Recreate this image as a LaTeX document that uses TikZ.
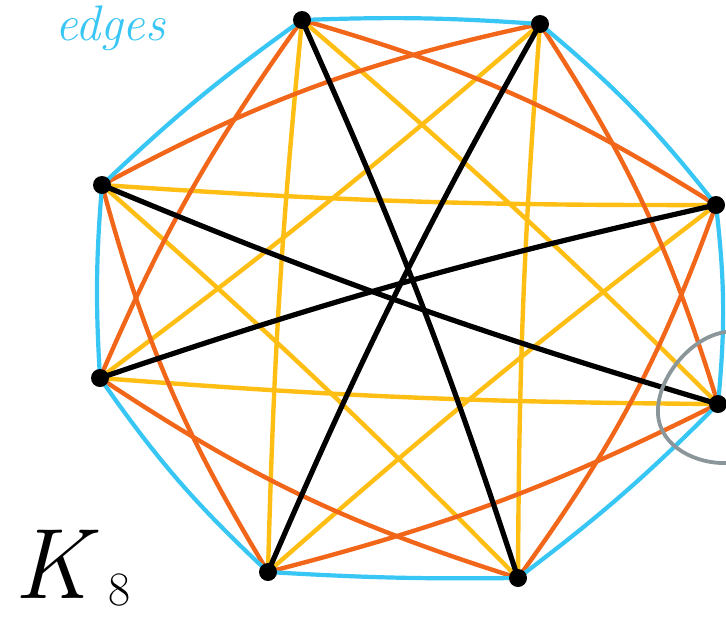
\documentclass[tikz,border=0pt]{standalone}
\usepackage{tikz}
\definecolor{eblue}{HTML}{38C6F4}
\definecolor{eorange}{HTML}{F2661A}
\definecolor{eyellow}{HTML}{FFBE14}
\definecolor{egray}{HTML}{8A9699}
\tikzset{
  e1/.style={draw=eblue, line width=4.2pt, line cap=round, line join=round},
  e2/.style={draw=eorange, line width=4.4pt, line cap=round, line join=round},
  e3/.style={draw=eyellow, line width=4.4pt, line cap=round, line join=round},
  e4/.style={draw=black, line width=5.2pt, line cap=round, line join=round},
  vdot/.style={circle, fill=black, inner sep=0pt, minimum size=18pt},
}
\begin{document}
\begin{tikzpicture}[x=1pt, y=-1pt]
\useasboundingbox[fill=white] (0,0) rectangle (726,619);
% vertices
\coordinate (v1) at (302,20);
\coordinate (v2) at (540,24);
\coordinate (v3) at (716,205);
\coordinate (v4) at (718,404);
\coordinate (v5) at (518,578);
\coordinate (v6) at (268,572);
\coordinate (v7) at (100,378);
\coordinate (v8) at (102,185);
% distance 3 (yellow)
\draw[e3] (v1) to[bend left=2] (v4);
\draw[e3] (v2) to[bend right=2] (v5);
\draw[e3] (v3) to[bend right=2] (v6);
\draw[e3] (v4) to[bend left=2] (v7);
\draw[e3] (v5) to[bend right=2] (v8);
\draw[e3] (v6) to[bend left=2] (v1);
\draw[e3] (v7) to[bend right=2] (v2);
\draw[e3] (v8) to[bend right=2] (v3);
% distance 2 (orange)
\draw[e2] (v1) to[bend left=8] (v3);
\draw[e2] (v2) to[bend left=8] (v4);
\draw[e2] (v3) to[bend left=8] (v5);
\draw[e2] (v4) to[bend left=6] (v6);
\draw[e2] (v5) to[bend left=8] (v7);
\draw[e2] (v6) to[bend left=8] (v8);
\draw[e2] (v7) to[bend left=6] (v1);
\draw[e2] (v8) to[bend left=8] (v2);
% distance 1 (blue)
\draw[e1] (v1) to[bend left=3] (v2);
\draw[e1] (v2) to[bend left=6] (v3);
\draw[e1] (v3) to[bend left=6] (v4);
\draw[e1] (v4) to[bend left=4] (v5);
\draw[e1] (v5) to[bend left=2] (v6);
\draw[e1] (v6) to[bend left=6] (v7);
\draw[e1] (v7) to[bend left=4] (v8);
\draw[e1] (v8) to[bend left=4] (v1);
% distance 4 (black)
\draw[e4] (v1) to[bend left=3] (v5);
\draw[e4] (v2) to[bend right=3] (v6);
\draw[e4] (v3) to[bend right=3] (v7);
\draw[e4] (v4) to[bend left=3] (v8);
% vertex dots
\node[vdot] (d1) at (v1) {};
\node[vdot] (d2) at (v2) {};
\node[vdot] (d3) at (v3) {};
\node[vdot] (d4) at (v4) {};
\node[vdot] (d5) at (v5) {};
\node[vdot] (d6) at (v6) {};
\node[vdot] (d7) at (v7) {};
\node[vdot] (d8) at (v8) {};
% gray highlight around vertex 4
\draw[draw=egray, line width=3.8pt, line cap=round]
  (726,332) .. controls (692,336) and (656,378) .. (658,414)
  .. controls (660,448) and (698,464) .. (726,463);
% labels
\node[text=eblue, font=\fontsize{50}{50}\selectfont\itshape] (lbl) at (110,28) {edges};
\node[font=\fontsize{100}{100}\selectfont\itshape] (kk) at (52,564) {K};
\node[font=\fontsize{48}{48}\selectfont] (k8) at (120,590) {8};
\end{tikzpicture}
\end{document}
